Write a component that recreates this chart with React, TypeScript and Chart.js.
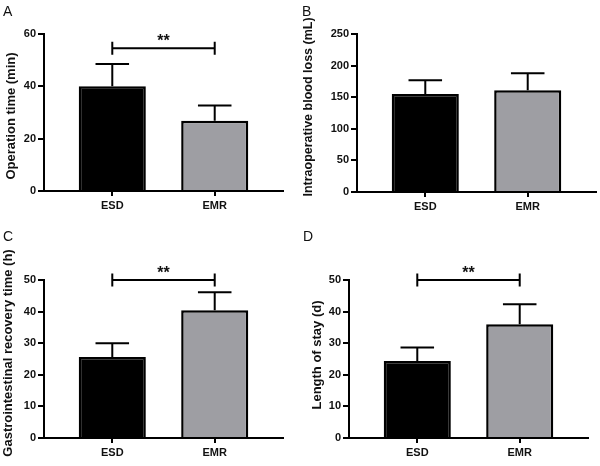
import React, { useEffect, useRef } from 'react';
import { Chart, registerables } from 'chart.js';

Chart.register(...registerables);

// ---------- data ----------
const categories = ['ESD', 'EMR'];

const operationTimeMean = [40, 26.8];
const operationTimeSD = [8.5, 5.9];
const operationTimeTicks = [0, 20, 40, 60];
const operationTimeBracket = 54.6;

const bloodLossMean = [155, 161];
const bloodLossSD = [21.7, 26.9];
const bloodLossTicks = [0, 50, 100, 150, 200, 250];

const giRecoveryMean = [25.6, 40.4];
const giRecoverySD = [4.4, 5.7];
const giRecoveryTicks = [0, 10, 20, 30, 40, 50];
const giRecoveryBracket = 50;

const stayMean = [24.4, 36.0];
const staySD = [4.2, 6.3];
const stayTicks = [0, 10, 20, 30, 40, 50];
const stayBracket = 50;

const significanceLabel = '**';

// ---------- styles ----------
const FONT = "'Liberation Sans', Arial, Helvetica, sans-serif";
const barColors = ['#000000', '#9e9ea3'];
const ink = '#111111';

type PanelProps = {
  letter: string;
  title: string;
  titleSize: number;
  means: number[];
  sds: number[];
  ticks: number[];
  bracket?: number;
  left: number;
  top: number;
  width: number;
  height: number;
  axisLeft: number;
  axisRight: number;
  axisTop: number;
  axisBottom: number;
  titleX: number;
  titleY: number;
  letterX: number;
  letterY: number;
};

const decorPlugin = {
  id: 'decor',
  afterDatasetsDraw(chart: any, _args: any, opts: any) {
    const ctx = chart.ctx as CanvasRenderingContext2D;
    const yScale = chart.scales.y;
    const meta = chart.getDatasetMeta(0);
    const means: number[] = opts.means;
    const sds: number[] = opts.sds;
    ctx.save();
    ctx.strokeStyle = '#000';
    ctx.lineWidth = 2;
    ctx.lineCap = 'butt';
    // error bars (upper only)
    meta.data.forEach((el: any, i: number) => {
      const x = el.x;
      const yMean = yScale.getPixelForValue(means[i]);
      const yTop = yScale.getPixelForValue(means[i] + sds[i]);
      const half = el.width * 0.25;
      ctx.beginPath();
      ctx.moveTo(x, yMean);
      ctx.lineTo(x, yTop);
      ctx.moveTo(x - half, yTop);
      ctx.lineTo(x + half, yTop);
      ctx.stroke();
    });
    // significance bracket
    if (opts.bracket !== undefined && opts.bracket !== null) {
      const y = yScale.getPixelForValue(opts.bracket);
      const x1 = meta.data[0].x;
      const x2 = meta.data[1].x;
      ctx.beginPath();
      ctx.moveTo(x1, y);
      ctx.lineTo(x2, y);
      ctx.moveTo(x1, y - 6.5);
      ctx.lineTo(x1, y + 6.5);
      ctx.moveTo(x2, y - 6.5);
      ctx.lineTo(x2, y + 6.5);
      ctx.stroke();
      ctx.fillStyle = ink;
      ctx.font = `bold 16px ${FONT}`;
      ctx.textAlign = 'center';
      ctx.textBaseline = 'alphabetic';
      ctx.fillText(significanceLabel, (x1 + x2) / 2, y - 2);
    }
    ctx.restore();
  },
  afterDraw(chart: any, _args: any, opts: any) {
    const ctx = chart.ctx as CanvasRenderingContext2D;
    ctx.save();
    // panel letter
    ctx.fillStyle = ink;
    ctx.font = `14px ${FONT}`;
    ctx.textAlign = 'left';
    ctx.textBaseline = 'alphabetic';
    ctx.fillText(opts.letter, opts.letterX, opts.letterY);
    // y axis title
    ctx.translate(opts.titleX, opts.titleY);
    ctx.rotate(-Math.PI / 2);
    ctx.font = `bold ${opts.titleSize}px ${FONT}`;
    ctx.textAlign = 'center';
    ctx.textBaseline = 'middle';
    ctx.fillText(opts.title, 0, 0);
    ctx.restore();
  },
};

function Panel(p: PanelProps) {
  const ref = useRef<HTMLCanvasElement>(null);
  useEffect(() => {
    if (!ref.current) return;
    const yMax = p.ticks[p.ticks.length - 1];
    const step = p.ticks[1] - p.ticks[0];
    const chart = new Chart(ref.current, {
      type: 'bar',
      data: {
        datasets: [
          {
            data: p.means.map((m, i) => ({ x: i + 1, y: m })),
            backgroundColor: barColors,
            borderColor: '#000',
            borderWidth: 2.5,
            categoryPercentage: 1,
            barPercentage: 0.655,
          } as any,
        ],
      },
      options: {
        responsive: false,
        maintainAspectRatio: false,
        animation: false,
        events: [],
        layout: {
          padding: { left: 0, top: p.axisTop, right: p.width - p.axisRight, bottom: 0 },
        },
        plugins: {
          legend: { display: false },
          tooltip: { enabled: false },
          decor: {
            means: p.means,
            sds: p.sds,
            bracket: p.bracket,
            letter: p.letter,
            title: p.title,
            titleSize: p.titleSize,
            titleX: p.titleX,
            titleY: p.titleY,
            letterX: p.letterX,
            letterY: p.letterY,
          },
        } as any,
        scales: {
          x: {
            type: 'linear',
            offset: false,
            bounds: 'data',
            min: 1 / 3,
            max: categories.length + 2 / 3,
            afterBuildTicks: (s: any) => {
              s.ticks = categories.map((_, i) => ({ value: i + 1 }));
            },
            afterFit: (s: any) => {
              s.height = p.height - p.axisBottom;
            },
            grid: {
              display: true,
              offset: false,
              drawOnChartArea: false,
              drawTicks: true,
              tickLength: 5,
              color: '#000',
              lineWidth: 2,
            },
            border: { display: true, color: '#000', width: 2 },
            ticks: {
              callback: (v: any) => categories[Math.round(Number(v)) - 1] ?? '',
              font: { family: FONT, size: 11, weight: 'bold' },
              color: ink,
              padding: 3,
              maxRotation: 0,
              autoSkip: false,
            },
          } as any,
          y: {
            min: 0,
            max: yMax,
            afterBuildTicks: (s: any) => {
              s.ticks = p.ticks.map((v) => ({ value: v }));
            },
            afterFit: (s: any) => {
              s.width = p.axisLeft;
            },
            grid: {
              display: true,
              drawOnChartArea: false,
              drawTicks: true,
              tickLength: 6,
              color: '#000',
              lineWidth: 2,
            },
            border: { display: true, color: '#000', width: 2 },
            ticks: {
              stepSize: step,
              font: { family: FONT, size: 11, weight: 'bold' },
              color: ink,
              padding: 2,
            },
          } as any,
        },
      },
      plugins: [decorPlugin as any],
    });
    return () => chart.destroy();
  }, []);
  return (
    <canvas
      ref={ref}
      width={p.width}
      height={p.height}
      style={{
        position: 'absolute',
        left: p.left,
        top: p.top,
        width: p.width,
        height: p.height,
      }}
    />
  );
}

export default function App() {
  return (
    <div
      style={{
        position: 'absolute',
        left: 0,
        top: 0,
        width: 600,
        height: 466,
        background: '#fff',
        overflow: 'hidden',
      }}
    >
      <Panel
        letter="A"
        title="Operation time (min)"
        titleSize={13}
        means={operationTimeMean}
        sds={operationTimeSD}
        ticks={operationTimeTicks}
        bracket={operationTimeBracket}
        left={0}
        top={0}
        width={300}
        height={222}
        axisLeft={44}
        axisRight={283}
        axisTop={34}
        axisBottom={191}
        titleX={11}
        titleY={116}
        letterX={3}
        letterY={15.5}
      />
      <Panel
        letter="B"
        title="Intraoperative blood loss (mL)"
        titleSize={12.5}
        means={bloodLossMean}
        sds={bloodLossSD}
        ticks={bloodLossTicks}
        left={300}
        top={0}
        width={300}
        height={222}
        axisLeft={57}
        axisRight={296}
        axisTop={34}
        axisBottom={192}
        titleX={9}
        titleY={107}
        letterX={2}
        letterY={15.5}
      />
      <Panel
        letter="C"
        title="Gastrointestinal recovery time (h)"
        titleSize={13}
        means={giRecoveryMean}
        sds={giRecoverySD}
        ticks={giRecoveryTicks}
        bracket={giRecoveryBracket}
        left={0}
        top={222}
        width={300}
        height={244}
        axisLeft={44}
        axisRight={283}
        axisTop={58}
        axisBottom={216}
        titleX={8}
        titleY={131}
        letterX={3}
        letterY={19}
      />
      <Panel
        letter="D"
        title="Length of stay (d)"
        titleSize={13}
        means={stayMean}
        sds={staySD}
        ticks={stayTicks}
        bracket={stayBracket}
        left={300}
        top={222}
        width={300}
        height={244}
        axisLeft={49}
        axisRight={288}
        axisTop={58}
        axisBottom={216}
        titleX={17}
        titleY={133}
        letterX={3}
        letterY={19}
      />
    </div>
  );
}
